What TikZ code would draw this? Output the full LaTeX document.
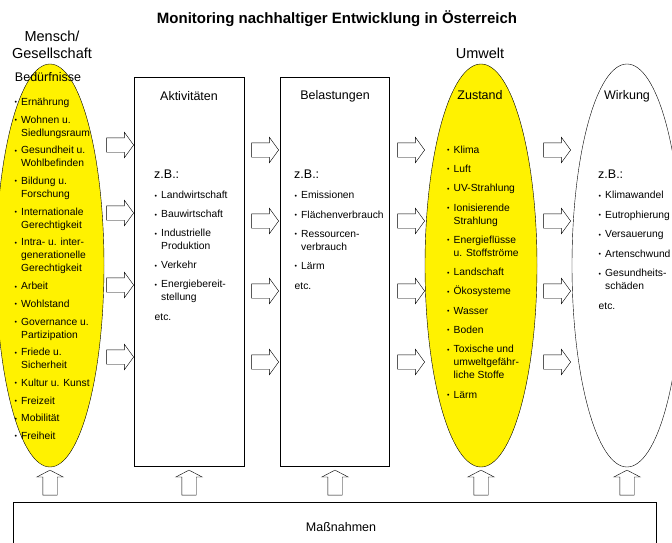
\documentclass[tikz,border=0pt]{standalone}
\usepackage{fontspec}
\setmainfont{Liberation Sans}
\usetikzlibrary{positioning,shapes.geometric,shapes.arrows}

% bullet and hanging indent for the lists
\newcommand{\bul}{\makebox[6.5pt][l]{\raisebox{0.6pt}{\fontsize{7}{7}\selectfont\textbullet}}}
\newcommand{\ind}{\hspace*{6.5pt}}

\begin{document}
\begin{tikzpicture}[
    x=1pt, y=-1pt,
    needell/.style={ellipse, draw, thin, fill=yellow, minimum width=108, minimum height=403, inner sep=0pt},
    effell/.style={needell, fill=white},
    colbox/.style={rectangle, draw, thin, minimum height=389, inner sep=0pt},
    headtxt/.style={font=\fontsize{12.5}{15}\selectfont, inner sep=0pt},
    listtxt/.style={anchor=north west, align=left, inner sep=0pt, font=\fontsize{10.3}{13}\selectfont},
    rarrow/.style={single arrow, draw, thin, fill=white, inner xsep=0pt, inner ysep=7pt, minimum height=27,
        single arrow head extend=5.5, single arrow tip angle=108},
    uarrow/.style={rarrow, rotate=90, minimum height=25, single arrow head extend=6, single arrow tip angle=125}
]
\clip (0,0) rectangle (672,543);

% Title
\node[font=\bfseries\fontsize{15}{17}\selectfont, inner sep=0pt, anchor=base] (title) at (337,23.5)
    {Monitoring nachhaltiger Entwicklung in Österreich};

% Columns (ellipses and boxes)
\node[needell] (bed) at (50,265.5) {};
\node[colbox, minimum width=110] (akt) at (189,271.5) {};
\node[colbox, minimum width=109] (bel) at (334.5,271.5) {};
\node[needell, minimum width=112] (zust) at (481,265.5) {};
\node[effell, minimum width=110] (wirk) at (627,265.5) {};
\node[rectangle, draw, thin, minimum width=643, minimum height=70, inner sep=0pt] (mass) at (334.5,537) {};

% Group labels
\node[font=\fontsize{14.5}{17}\selectfont, align=center, inner sep=0pt, anchor=north] (mensch) at (52,30.8)
    {Mensch/\\Gesellschaft};
\node[font=\fontsize{14.5}{17}\selectfont, inner sep=0pt, anchor=base] (umwelt) at (480,58.2) {Umwelt};

% Column headings
\node[headtxt, anchor=base] (bedh) at (48,81.5) {Bedürfnisse};
\node[headtxt, anchor=base] (akth) at (189,100.5) {Aktivitäten};
\node[headtxt, anchor=base] (belh) at (335,99.5) {Belastungen};
\node[headtxt, anchor=base] (zusth) at (480,99.5) {Zustand};
\node[headtxt, anchor=base] (wirkh) at (627,99.5) {Wirkung};
\node[headtxt, anchor=base] (massh) at (341,531.5) {Maßnahmen};

% z.B.: labels
\node[headtxt, anchor=base west] (aktzb) at (154,178.5) {z.B.:};
\node[headtxt, anchor=base west] (belzb) at (294,178.5) {z.B.:};
\node[headtxt, anchor=base west] (wirkzb) at (598,178.5) {z.B.:};

% Lists
\node[listtxt] (bedlist) at (14.5,97.8) {%
    \bul Ernährung\\[4.7pt]
    \bul Wohnen u.\\ \ind Siedlungsraum\\[4.7pt]
    \bul Gesundheit u.\\ \ind Wohlbefinden\\[4.7pt]
    \bul Bildung u.\\ \ind Forschung\\[4.7pt]
    \bul Internationale\\ \ind Gerechtigkeit\\[4.7pt]
    \bul Intra- u. inter-\\ \ind generationelle\\ \ind Gerechtigkeit\\[4.7pt]
    \bul Arbeit\\[4.7pt]
    \bul Wohlstand\\[4.7pt]
    \bul Governance u.\\ \ind Partizipation\\[4.7pt]
    \bul Friede u.\\ \ind Sicherheit\\[4.7pt]
    \bul Kultur u. Kunst\\[4.7pt]
    \bul Freizeit\\[4.7pt]
    \bul Mobilität\\[4.7pt]
    \bul Freiheit};
\node[listtxt] (aktlist) at (154.5,191) {%
    \bul Landwirtschaft\\[6pt]
    \bul Bauwirtschaft\\[6pt]
    \bul Industrielle\\ \ind Produktion\\[6pt]
    \bul Verkehr\\[6pt]
    \bul Energiebereit-\\ \ind stellung\\[7pt]
    etc.};
\node[listtxt] (bellist) at (294.5,191) {%
    \bul Emissionen\\[6.5pt]
    \bul Flächenverbrauch\\[6pt]
    \bul Ressourcen-\\ \ind verbrauch\\[6pt]
    \bul Lärm\\[7pt]
    etc.};
\node[listtxt] (zustlist) at (447,145.5) {%
    \bul Klima\\[6.3pt]
    \bul Luft\\[6.3pt]
    \bul UV-Strahlung\\[6.3pt]
    \bul Ionisierende\\ \ind Strahlung\\[6.3pt]
    \bul Energieflüsse\\ \ind u. Stoffströme\\[6.3pt]
    \bul Landschaft\\[6.3pt]
    \bul Ökosysteme\\[6.3pt]
    \bul Wasser\\[6.3pt]
    \bul Boden\\[6.3pt]
    \bul Toxische und\\ \ind umweltgefähr-\\ \ind liche Stoffe\\[6.3pt]
    \bul Lärm};
\node[listtxt] (wirklist) at (598.5,191) {%
    \bul Klimawandel\\[6.5pt]
    \bul Eutrophierung\\[6.5pt]
    \bul Versauerung\\[6.5pt]
    \bul Artenschwund\\[6.5pt]
    \bul Gesundheits-\\ \ind schäden\\[7pt]
    etc.};

% Block arrows between the columns
\foreach \i/\y in {1/145,2/213,3/285,4/357}
    \node[rarrow] (ra\i) at (117.5,\y) {};
\foreach \i/\y in {1/150,2/221,3/291,4/362} {
    \node[rarrow] (rb\i) at (262.5,\y) {};
    \node[rarrow] (rc\i) at (408.5,\y) {};
    \node[rarrow] (rd\i) at (554.5,\y) {};
}

% Upward arrows from Massnahmen
\foreach \n/\x in {bed/50,akt/189,bel/335,zust/481,wirk/627}
    \node[uarrow] (up\n) at (\x,484.5) {};

\end{tikzpicture}
\end{document}
